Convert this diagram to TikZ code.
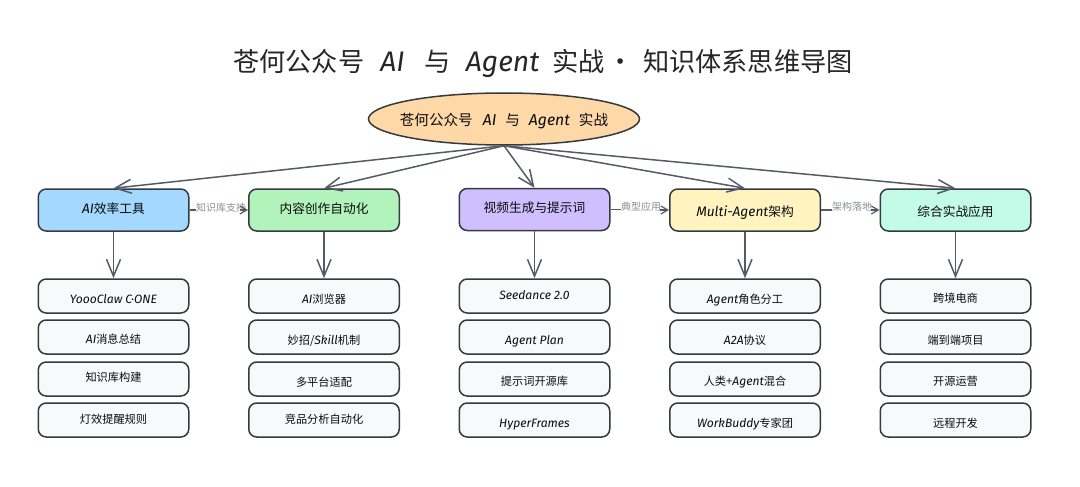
\documentclass[tikz,border=0pt]{standalone}
\usepackage{fontspec}
\setmainfont{Noto Sans CJK SC}
\newfontfamily\hwfont[Scale=1.08]{Fira Sans}
\newcommand{\hw}[1]{{\hwfont\itshape #1}}
\newcommand{\dn}[2]{\raisebox{\dimexpr-#1pt-4pt\relax}[0pt][0pt]{\makebox[0pt][c]{#2}}}
\usetikzlibrary{arrows.meta,shapes.geometric}
\definecolor{inkc}{HTML}{343A40}
\definecolor{linkc}{HTML}{555B66}
\definecolor{grayt}{HTML}{8A8F98}
\definecolor{leafc}{HTML}{F8F9FA}
\tikzset{
  x=1pt,y=-1pt,
  box/.style={draw=inkc,line width=1.5pt,rounded corners=8pt,minimum width=150.5pt,inner sep=0pt,align=center,text=black!80!inkc},
  head/.style={box,minimum height=42pt,font=\fontsize{12.7}{15}\selectfont},
  leaf/.style={box,minimum height=34pt,fill=leafc,font=\fontsize{11.2}{14}\selectfont},
  rootedge/.style={draw=linkc,line width=1.5pt,-{Straight Barb[length=16pt,width=14pt,line width=1.5pt]}},
  downedge/.style={draw=linkc,line width=1.5pt,-{Straight Barb[length=17pt,width=14pt,line width=1.5pt]}},
  sideline/.style={draw=linkc,line width=1.5pt},
  sidehead/.style={draw=linkc,line width=1.5pt,-{Straight Barb[length=7pt,width=8pt,line width=1.2pt]}},
  sidelabel/.style={fill=white,text=grayt,inner sep=0pt,font=\fontsize{10}{12}\selectfont},
}
\begin{document}
\begin{tikzpicture}
\useasboundingbox (0,0) rectangle (1080,487);
\node[text=black!85,font=\fontsize{26.2}{32}\selectfont] (title) at (543,62) {\dn{6}{苍何公众号\hspace{16pt}\hw{AI}\hspace{20pt}与\hspace{15pt}\hw{Agent}\hspace{13pt}实战\hspace{3pt}·\hspace{9pt}知识体系思维导图}};
\node[ellipse,draw=inkc,line width=1.5pt,fill={rgb,255:red,255;green,216;blue,168},minimum width=271pt,minimum height=52pt,inner sep=0pt,font=\fontsize{14.6}{17}\selectfont,text=black!80!inkc] (root) at (504,119) {\dn{2.5}{苍何公众号\hspace{10pt}\hw{AI}\hspace{9pt}与\hspace{9pt}\hw{Agent}\hspace{9pt}实战}};

\node[head,fill={rgb,255:red,165;green,216;blue,255}] (h1) at (113.5,210) {\dn{-1}{\hw{AI}效率工具}};
\node[head,fill={rgb,255:red,178;green,242;blue,187}] (h2) at (324,210) {\dn{-1}{内容创作自动化}};
\node[head,fill={rgb,255:red,208;green,191;blue,255}] (h3) at (534.5,209.5) {\dn{-1.5}{视频生成与提示词}};
\node[head,fill={rgb,255:red,255;green,243;blue,191}] (h4) at (745,210) {\dn{2.5}{\hw{Multi-Agent}架构}};
\node[head,fill={rgb,255:red,195;green,250;blue,232}] (h5) at (955.5,210) {\dn{2.5}{综合实战应用}};

\node[leaf] (a1) at (113.5,296) {\dn{3}{\hw{YoooClaw C·ONE}}};
\node[leaf] (a2) at (113.5,337) {\dn{2}{\hw{AI}消息总结}};
\node[leaf] (a3) at (113.5,379) {\dn{-2}{知识库构建}};
\node[leaf] (a4) at (113.5,420) {\dn{-1}{灯效提醒规则}};

\node[leaf] (b1) at (324,296) {\dn{3}{\hw{AI}浏览器}};
\node[leaf] (b2) at (324,337) {\dn{3}{妙招/\hw{Skill}机制}};
\node[leaf] (b3) at (324,379) {\dn{3}{多平台适配}};
\node[leaf] (b4) at (324,420) {\dn{-1}{竞品分析自动化}};

\node[leaf] (c1) at (534.5,296) {\dn{-1}{\hw{Seedance 2.0}}};
\node[leaf] (c2) at (534.5,337) {\dn{3}{\hw{Agent Plan}}};
\node[leaf] (c3) at (534.5,379) {\dn{2}{提示词开源库}};
\node[leaf] (c4) at (534.5,420) {\dn{3}{\hw{HyperFrames}}};

\node[leaf] (d1) at (745,296) {\dn{3}{\hw{Agent}角色分工}};
\node[leaf] (d2) at (745,337) {\dn{3}{\hw{A2A}协议}};
\node[leaf] (d3) at (745,379) {\dn{2}{人类+\hw{Agent}混合}};
\node[leaf] (d4) at (745,420) {\dn{3}{\hw{WorkBuddy}专家团}};

\node[leaf] (e1) at (955.5,296) {\dn{2}{跨境电商}};
\node[leaf] (e2) at (955.5,337) {\dn{3}{端到端项目}};
\node[leaf] (e3) at (955.5,379) {\dn{2}{开源运营}};
\node[leaf] (e4) at (955.5,420) {\dn{3}{远程开发}};

\foreach \h in {h1,h2,h3,h4,h5} \draw[rootedge] (root.south) -- (\h.north);
\draw[downedge] (h1) -- (a1);
\draw[downedge] (h2) -- (b1);
\draw[downedge] (h3) -- (c1);
\draw[downedge] (h4) -- (d1);
\draw[downedge] (h5) -- (e1);

\node[sidelabel] (l1) at (221,208) {知识库支持};
\node[sidelabel] (l2) at (641,207) {典型应用};
\node[sidelabel] (l3) at (852,207) {架构落地};
\draw[sideline] (h1.east) -- (h1.east -| l1.west);
\draw[sidehead] ([xshift=-8pt]h2.west) -- (h2.west);
\draw[sideline] (h3.east) -- (h3.east -| l2.west);
\draw[sidehead] ([xshift=-9pt]h4.west) -- (h4.west);
\draw[sideline] (h4.east) -- (h4.east -| l3.west);
\draw[sidehead] ([xshift=-9pt]h5.west) -- (h5.west);
\end{tikzpicture}
\end{document}
